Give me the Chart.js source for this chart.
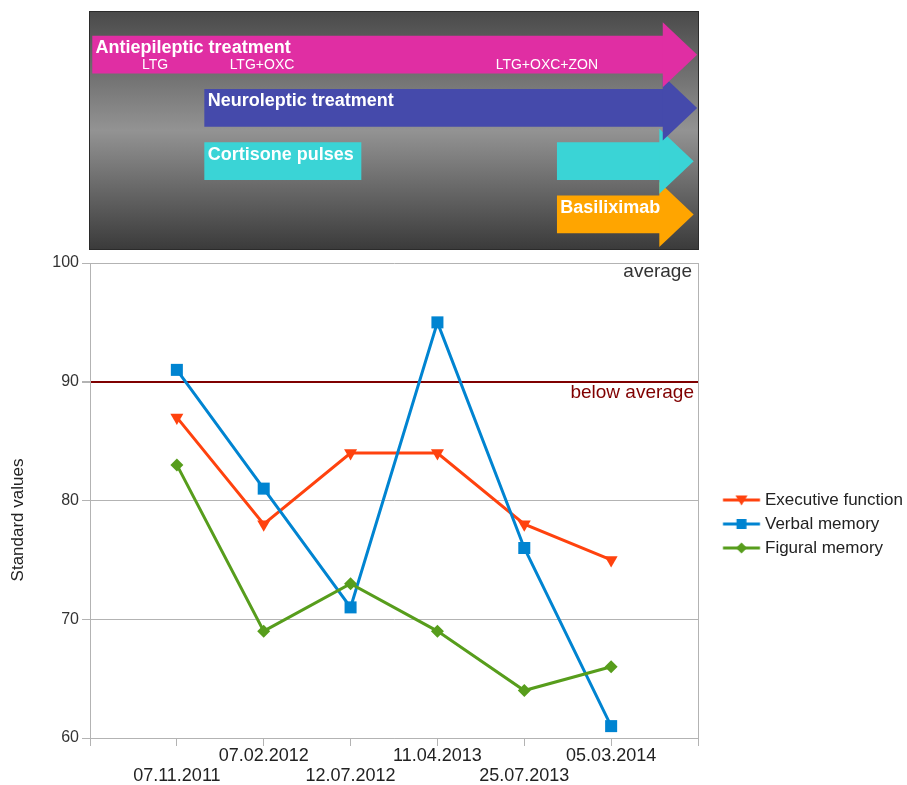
<!DOCTYPE html>
<html>
<head>
<meta charset="utf-8">
<script src="https://cdn.jsdelivr.net/npm/chart.js@4.4.1/dist/chart.umd.min.js"></script>
<style>
html,body{margin:0;padding:0;background:#fff;width:907px;height:785px;overflow:hidden}
#banner{position:absolute;left:89px;top:11px;width:608px;height:237px;border:1px solid #2b2b2b;background:linear-gradient(to bottom,#4a4a4a 0%,#939393 50%,#3b3b3b 100%)}
#bannerCanvas{display:block}
#main{position:absolute;left:0;top:250px}
</style>
</head>
<body>
<div id="banner"><canvas id="bannerCanvas" width="608" height="237"></canvas></div>
<canvas id="main" width="907" height="535"></canvas>
<script>
// ---- chart data ----
const dates = ['07.11.2011', '07.02.2012', '12.07.2012', '11.04.2013', '25.07.2013', '05.03.2014'];
const seriesNames = ['Executive function', 'Verbal memory', 'Figural memory'];
const executiveFunction = [87, 78, 84, 84, 78, 75];
const verbalMemory = [91, 81, 71, 95, 76, 61];
const figuralMemory = [83, 69, 73, 69, 64, 66];
const yMin = 60, yMax = 100, yStep = 10;
const averageThreshold = 90;
const averageLabel = 'average';
const belowAverageLabel = 'below average';
const yTitle = 'Standard values';

// ---- treatment timeline (same time axis units as the chart) ----
const therapyRows = ['Antiepileptic treatment', 'Neuroleptic treatment', 'Cortisone pulses', 'Basiliximab'];
const spanRow   = [0, 1, 2, 2, 3];
const spanStart = [0.03, 1.32, 1.32, 5.38, 5.38];
const spanEnd   = [6.60, 6.60, 3.12, 6.56, 6.56];
const spanTip   = [6.99, 6.99, null, 6.95, 6.95];
const drugLabels = ['LTG', 'LTG+OXC', 'LTG+OXC+ZON'];
const drugPositions = [0.75, 1.98, 5.26];

const FONT = '"Liberation Sans", Arial, Helvetica, sans-serif';
Chart.defaults.font.family = FONT;

const spanColors = ['#e02ea3', '#454aab', '#3ad4d6', '#3ad4d6', '#ffa500'];

// ---------- Banner chart ----------
const bannerDatasets = spanRow.map((r, i) => {
  const d = therapyRows.map(() => null);
  d[r] = [spanStart[i], spanEnd[i]];
  return {
    label: therapyRows[r],
    data: d,
    backgroundColor: spanColors[i],
    borderWidth: 0,
    borderSkipped: false,
    barThickness: 37,
    grouped: false
  };
});

const bannerPlugin = {
  id: 'bannerArrows',
  afterDatasetDraw(chart, args) {
    const i = args.index;
    if (spanTip[i] == null) return;
    const el = args.meta.data[spanRow[i]];
    if (!el) return;
    const p = el.getProps(['x', 'y', 'height'], true);
    const tip = chart.scales.x.getPixelForValue(spanTip[i]);
    const ext = 14;
    const ctx = chart.ctx;
    ctx.save();
    ctx.fillStyle = spanColors[i];
    ctx.beginPath();
    ctx.moveTo(p.x - 0.5, p.y - p.height / 2 - ext);
    ctx.lineTo(tip, p.y);
    ctx.lineTo(p.x - 0.5, p.y + p.height / 2 + ext);
    ctx.closePath();
    ctx.fill();
    ctx.restore();
  },
  afterDraw(chart) {
    const ctx = chart.ctx;
    const xs = chart.scales.x;
    ctx.save();
    ctx.fillStyle = '#ffffff';
    ctx.textBaseline = 'middle';
    ctx.textAlign = 'left';
    ctx.font = 'bold 18px ' + FONT;
    const done = {};
    spanRow.forEach((r, i) => {
      if (done[r]) return;
      done[r] = true;
      const el = chart.getDatasetMeta(i).data[r];
      const p = el.getProps(['base', 'y', 'height'], true);
      ctx.fillText(therapyRows[r], p.base + 3, p.y - p.height / 2 + 12);
    });
    const first = chart.getDatasetMeta(0).data[0].getProps(['y', 'height'], true);
    ctx.font = '14px ' + FONT;
    ctx.textAlign = 'center';
    drugLabels.forEach((t, k) => {
      ctx.fillText(t, xs.getPixelForValue(drugPositions[k]), first.y + first.height / 2 - 8);
    });
    ctx.restore();
  }
};

new Chart(document.getElementById('bannerCanvas'), {
  type: 'bar',
  data: { labels: therapyRows, datasets: bannerDatasets },
  options: {
    indexAxis: 'y',
    responsive: false,
    animation: false,
    devicePixelRatio: 1,
    layout: { padding: { top: 16, bottom: 8, left: 0, right: 0 } },
    plugins: { legend: { display: false }, tooltip: { enabled: false } },
    scales: {
      x: { type: 'linear', min: 0, max: dates.length + 1, display: false },
      y: { type: 'category', display: false }
    }
  },
  plugins: [bannerPlugin]
});

// ---------- Main chart ----------
const seriesColors = ['#ff420e', '#0084d1', '#579d1c'];
const seriesValues = [executiveFunction, verbalMemory, figuralMemory];
const seriesShapes = ['triangle', 'rect', 'rectRot'];
const seriesRotation = [180, 0, 0];
const seriesRadius = [7.5, 8.5, 6.5];

function legendIcon(color, k) {
  const c = document.createElement('canvas');
  c.width = 62; c.height = 20;
  const g = c.getContext('2d');
  g.strokeStyle = color; g.lineWidth = 3;
  g.beginPath(); g.moveTo(23.25, 10); g.lineTo(60.25, 10); g.stroke();
  g.fillStyle = color;
  const cx = 41.75, cy = 10;
  g.beginPath();
  if (k === 0) { g.moveTo(cx - 6, cy - 4.5); g.lineTo(cx + 6, cy - 4.5); g.lineTo(cx, cy + 5.5); }
  else if (k === 1) { g.rect(cx - 5, cy - 5, 10, 10); }
  else { g.moveTo(cx - 5.5, cy); g.lineTo(cx, cy - 5.5); g.lineTo(cx + 5.5, cy); g.lineTo(cx, cy + 5.5); }
  g.closePath(); g.fill();
  return c;
}
const icons = seriesColors.map((c, k) => legendIcon(c, k));

const mainDatasets = seriesNames.map((name, k) => ({
  label: name,
  data: seriesValues[k].map((v, i) => ({ x: i + 1, y: v })),
  borderColor: seriesColors[k],
  backgroundColor: seriesColors[k],
  borderWidth: 3,
  tension: 0,
  pointStyle: seriesShapes[k],
  pointRotation: seriesRotation[k],
  pointRadius: seriesRadius[k],
  pointHoverRadius: seriesRadius[k],
  pointBorderWidth: 0,
  pointBackgroundColor: seriesColors[k],
  order: seriesNames.length - k
}));

const averagePlugin = {
  id: 'averageText',
  afterDraw(chart) {
    const { ctx, chartArea, scales: { y } } = chart;
    ctx.save();
    ctx.font = '19px ' + FONT;
    ctx.textAlign = 'right';
    ctx.textBaseline = 'middle';
    ctx.fillStyle = '#333333';
    ctx.fillText(averageLabel, chartArea.right - 6, y.getPixelForValue(yMax) + 9);
    ctx.fillStyle = '#800000';
    ctx.fillText(belowAverageLabel, chartArea.right - 4, y.getPixelForValue(averageThreshold) + 11);
    // y axis title, centred on the whole diagram height like the source
    ctx.font = '17px ' + FONT;
    ctx.fillStyle = '#222222';
    ctx.textAlign = 'center';
    ctx.translate(18, (chartArea.top + chart.height) / 2 - 4);
    ctx.rotate(-Math.PI / 2);
    ctx.fillText(yTitle, 0, 0);
    ctx.restore();
  }
};

new Chart(document.getElementById('main'), {
  type: 'line',
  data: { datasets: mainDatasets },
  options: {
    responsive: false,
    animation: false,
    devicePixelRatio: 1,
    layout: { padding: { top: 13, left: 0, right: 0, bottom: 0 } },
    plugins: {
      tooltip: { enabled: false },
      legend: {
        position: 'right',
        align: 'center',
        maxWidth: 209,
        labels: {
          usePointStyle: true,
          pointStyleWidth: 51.5,
          padding: 7,
          color: '#222222',
          font: { size: 17 },
          generateLabels(chart) {
            return chart.data.datasets.map((ds, i) => ({
              text: ds.label,
              pointStyle: icons[i],
              fillStyle: ds.borderColor,
              strokeStyle: ds.borderColor,
              lineWidth: 0,
              hidden: false,
              datasetIndex: i,
              fontColor: '#222222'
            }));
          }
        }
      }
    },
    scales: {
      x: {
        type: 'linear',
        min: 0,
        max: dates.length + 1,
        afterFit(s) { s.height = 47; },
        ticks: {
          stepSize: 1,
          autoSkip: false,
          maxRotation: 0,
          padding: 0,
          color: '#222222',
          font: { size: 18, lineHeight: 1.1 },
          callback(value) {
            const i = Math.round(value) - 1;
            if (i < 0 || i >= dates.length) return '';
            return i % 2 === 0 ? ['', dates[i]] : [dates[i], ''];
          }
        },
        grid: {
          drawOnChartArea: true,
          color(ctx) {
            const v = ctx.tick ? ctx.tick.value : null;
            return (v === 0 || v === dates.length + 1) ? '#b3b3b3' : 'rgba(0,0,0,0)';
          },
          tickColor: '#b3b3b3',
          tickLength: 8
        },
        border: { color: '#b3b3b3' }
      },
      y: {
        min: yMin,
        max: yMax,
        afterFit(s) { s.width = 90; },
        ticks: { stepSize: yStep, padding: 3, color: '#333333', font: { size: 16 } },
        grid: {
          color(ctx) { return ctx.tick && ctx.tick.value === averageThreshold ? '#7f0000' : '#b3b3b3'; },
          lineWidth(ctx) { return ctx.tick && ctx.tick.value === averageThreshold ? 2 : 1; },
          tickColor: '#b3b3b3',
          tickLength: 8
        },
        border: { color: '#b3b3b3' },
        title: { display: false, text: yTitle }
      }
    }
  },
  plugins: [averagePlugin]
});
</script>
</body>
</html>
